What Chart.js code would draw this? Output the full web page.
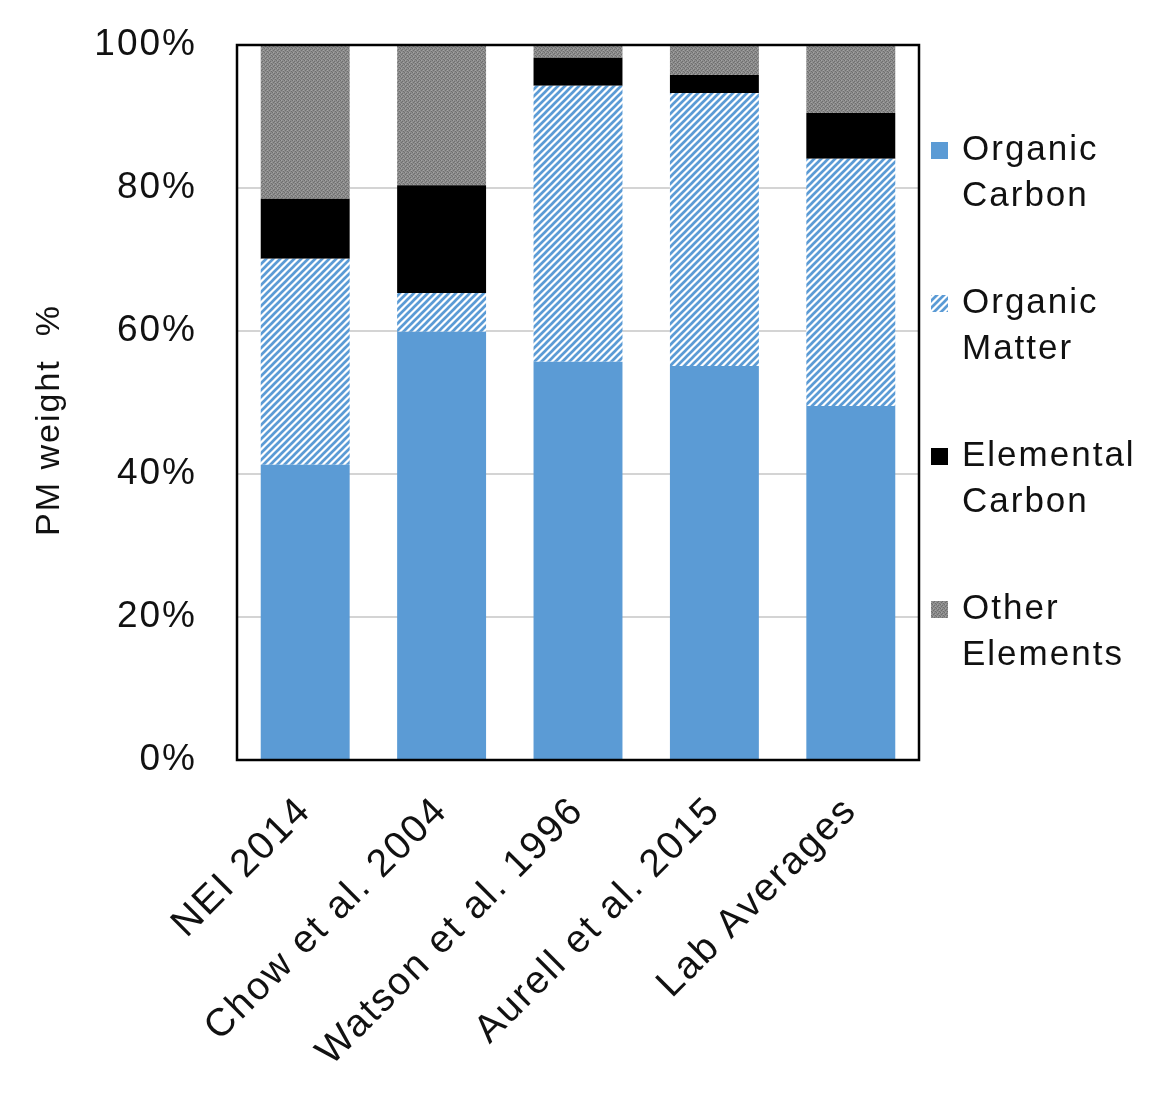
<!DOCTYPE html>
<html><head><meta charset="utf-8">
<script src="https://cdn.jsdelivr.net/npm/chart.js@4.4.1/dist/chart.umd.min.js"></script>
<style>html,body{margin:0;padding:0;background:#fff}#wrap{width:1157px;height:1094px}</style>
</head><body><div id="wrap"><canvas id="c" width="1157" height="1094"></canvas></div>
<script>
const categories = ['NEI 2014','Chow et al. 2004','Watson et al. 1996','Aurell et al. 2015','Lab Averages'];
const seriesNames = ['Organic Carbon','Organic Matter','Elemental Carbon','Other Elements'];
const organicCarbon   = [41.3, 59.9, 55.7, 55.1, 49.5];
const organicMatter   = [28.8,  5.4, 38.6, 38.2, 34.6];
const elementalCarbon = [ 8.4, 15.1,  3.9,  2.5,  6.4];
const otherElements   = [21.5, 19.6,  1.8,  4.2,  9.5];
const yTicks = [0, 20, 40, 60, 80, 100];
const yTitle = 'PM weight  %';

const FONT = '"Liberation Sans", Arial, sans-serif';
const TXT = '#111';

function hatchPattern(){
  const s = 7;
  const c = document.createElement('canvas'); c.width = c.height = s;
  const g = c.getContext('2d');
  g.fillStyle = '#fff'; g.fillRect(0,0,s,s);
  g.strokeStyle = '#5b9bd5'; g.lineWidth = 2.7;
  g.beginPath();
  g.moveTo(-1, s+1); g.lineTo(s+1, -1);
  g.moveTo(-2, 2); g.lineTo(2, -2);
  g.moveTo(s-2, s+2); g.lineTo(s+2, s-2);
  g.stroke();
  return g.createPattern(c, 'repeat');
}
function grayPattern(){
  const s = 4;
  const c = document.createElement('canvas'); c.width = c.height = s;
  const g = c.getContext('2d');
  g.fillStyle = '#8c8c8c'; g.fillRect(0,0,s,s);
  g.fillStyle = '#6e6e6e';
  [[0,0],[2,1],[1,2],[3,3]].forEach(p => g.fillRect(p[0], p[1], 1, 1));
  g.fillStyle = '#a3a3a3';
  [[1,0],[3,2]].forEach(p => g.fillRect(p[0], p[1], 1, 1));
  return g.createPattern(c, 'repeat');
}

const fills = ['#5b9bd5', hatchPattern(), '#000000', grayPattern()];
const seriesData = [organicCarbon, organicMatter, elementalCarbon, otherElements];

const spacingPlugin = {
  id: 'spacing',
  beforeLayout(chart){ chart.ctx.letterSpacing = '2px'; },
  beforeDraw(chart){ chart.ctx.letterSpacing = '2px'; }
};

const framePlugin = {
  id: 'frame',
  afterDatasetsDraw(chart){
    const {ctx, chartArea:a} = chart;
    ctx.save();
    ctx.strokeStyle = '#000'; ctx.lineWidth = 2.5;
    ctx.strokeRect(a.left, a.top, a.right - a.left, a.bottom - a.top);
    ctx.restore();
  }
};

const titlePlugin = {
  id: 'ytitle',
  afterDraw(chart){
    const ctx = chart.ctx;
    ctx.save();
    ctx.letterSpacing = '2px';
    ctx.translate(59, 420);
    ctx.rotate(-Math.PI/2);
    ctx.font = '34px ' + FONT;
    ctx.fillStyle = TXT;
    ctx.textAlign = 'center';
    ctx.textBaseline = 'alphabetic';
    ctx.fillText(yTitle, 0, 0);
    ctx.restore();
  }
};

const legendPlugin = {
  id: 'sideLegend',
  afterDraw(chart){
    const ctx = chart.ctx;
    ctx.save();
    ctx.letterSpacing = '2px';
    ctx.font = '35px ' + FONT;
    ctx.fillStyle = TXT;
    ctx.textAlign = 'left';
    ctx.textBaseline = 'middle';
    chart.data.datasets.forEach((ds, i) => {
      const y0 = 150 + i * 153;
      ctx.fillStyle = ds.backgroundColor;
      ctx.fillRect(931, y0 - 8, 17, 17);
      ctx.fillStyle = TXT;
      const parts = ds.label.split(' ');
      parts.forEach((p, j) => ctx.fillText(p, 962, y0 + j * 46));
    });
    ctx.restore();
  }
};

new Chart(document.getElementById('c'), {
  type: 'bar',
  data: {
    labels: categories,
    datasets: seriesNames.map((n, i) => ({
      label: n,
      data: seriesData[i],
      backgroundColor: fills[i],
      borderWidth: 0,
      categoryPercentage: 1,
      barPercentage: 0.652
    }))
  },
  options: {
    responsive: false,
    animation: false,
    devicePixelRatio: 1,
    layout: { padding: { top: 45, right: 238, left: 0, bottom: 0 } },
    plugins: { legend: { display: false }, tooltip: { enabled: false } },
    scales: {
      x: {
        stacked: true,
        grid: { display: false, drawTicks: false },
        border: { display: false },
        ticks: {
          color: TXT, font: { family: FONT, size: 39 },
          minRotation: 45, maxRotation: 45, padding: 28
        },
        afterFit(s){ s.height = 334; s.paddingLeft = 0; s.paddingRight = 0; s.paddingTop = 0; s.paddingBottom = 0; }
      },
      y: {
        stacked: true, min: 0, max: 100,
        grid: { color: '#d4d4d4', lineWidth: 2, drawTicks: false },
        border: { display: false },
        ticks: {
          color: TXT, font: { family: FONT, size: 37 }, padding: 40,
          callback: v => v + '%'
        },
        afterBuildTicks(s){ s.ticks = yTicks.map(v => ({ value: v })); },
        afterFit(s){ s.width = 237; s.paddingTop = 0; s.paddingBottom = 0; s.paddingLeft = 0; s.paddingRight = 0; }
      }
    }
  },
  plugins: [spacingPlugin, framePlugin, titlePlugin, legendPlugin]
});
</script>
</body></html>
